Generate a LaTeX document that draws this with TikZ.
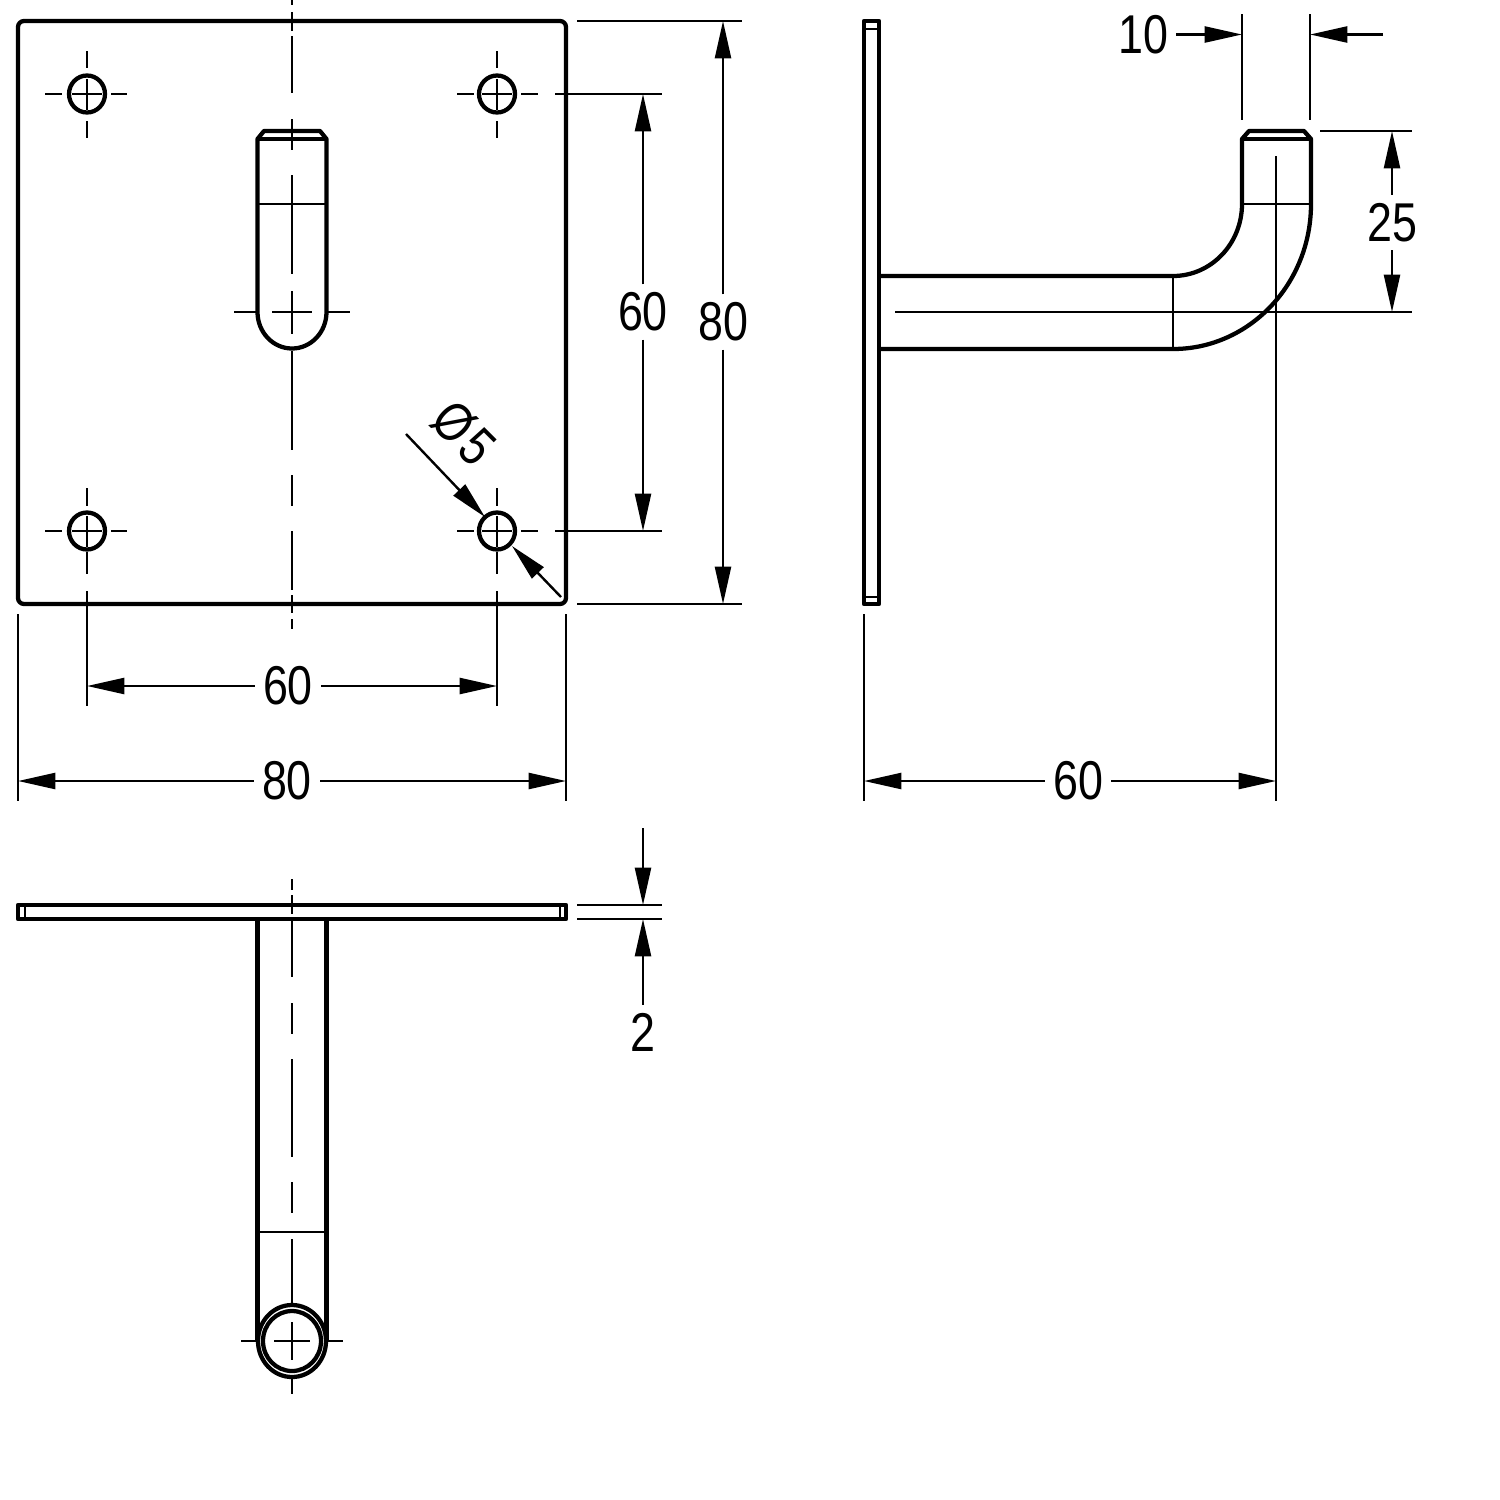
\documentclass[tikz,border=0pt]{standalone}
\usepackage{fontspec}
\setmainfont[FakeStretch=0.82]{Liberation Sans}
\usetikzlibrary{arrows.meta}

\tikzset{
  outline/.style={line width=3.2pt,line join=round},
  thinline/.style={line width=1.8pt},
  axisline/.style={line width=2.1pt},
  dimline/.style={line width=1.8pt,-{Triangle[length=28pt,width=12pt]}},
  dimtext/.style={inner sep=6pt,font=\fontsize{41}{41}\selectfont}
}

\begin{document}
\begin{tikzpicture}[x=0.75pt,y=0.75pt,yscale=-1,xscale=1]
\path [use as bounding box] (0,0) rectangle (1500,1500);

%Shape: Plate front view
\draw [outline,rounded corners=4.5pt] (18,21) rectangle (566,604);
%Shape: Holes
\draw [outline] (87,94) ellipse [x radius=18,y radius=18.5];
\draw [outline] (497,94) ellipse [x radius=18,y radius=18.5];
\draw [outline] (87,531) ellipse [x radius=18,y radius=18.5];
\draw [outline] (497,531) ellipse [x radius=18,y radius=18.5];
%Straight Lines: hole axes
\draw [axisline] (45,94) -- (62,94) (72,94) -- (102,94) (111,94) -- (127,94) (87,51) -- (87,68) (87,79) -- (87,110) (87,121) -- (87,138);
\draw [axisline] (457,94) -- (474,94) (482,94) -- (512,94) (521,94) -- (538,94) (497,51) -- (497,68) (497,79) -- (497,110) (497,121) -- (497,138);
\draw [axisline] (45,531) -- (62,531) (72,531) -- (102,531) (111,531) -- (127,531) (87,488) -- (87,506) (87,516) -- (87,547) (87,552) -- (87,574);
\draw [axisline] (457,531) -- (474,531) (482,531) -- (512,531) (521,531) -- (538,531) (497,488) -- (497,506) (497,516) -- (497,547) (497,552) -- (497,574);
%Shape: Slot
\draw [outline] (257.5,139) -- (264,131) -- (320,131) -- (326.5,139) -- (326.5,312) arc [start angle=0,end angle=180,x radius=34.5,y radius=36.5] -- cycle;
\draw [outline] (257.5,139) -- (326.5,139);
\draw [thinline] (257.5,204) -- (326.5,204);
%Straight Lines: slot axes
\draw [axisline] (234,312) -- (256,312) (272,312) -- (312,312) (328,312) -- (350,312);
%Straight Lines: middle axis
\draw [axisline] (292,0) -- (292,5) (292,12) -- (292,31) (292,36) -- (292,93) (292,119) -- (292,150) (292,175) -- (292,274) (292,291) -- (292,334) (292,351) -- (292,450) (292,475) -- (292,506) (292,531) -- (292,590) (292,595) -- (292,613) (292,619) -- (292,629);

%Shape: Plate side view
\draw [outline] (864,21) rectangle (879,604);
\draw [axisline] (864,29) -- (879,29) (864,597) -- (879,597);
%Shape: Hook
\draw [outline] (879,276) -- (1173,276) arc [start angle=90,end angle=0,x radius=69,y radius=72] -- (1242,139) -- (1249,131) -- (1304,131) -- (1311,139) -- (1311,204) arc [start angle=0,end angle=90,x radius=138,y radius=145] -- (879,349);
\draw [outline] (1242,139) -- (1311,139);
\draw [thinline] (1242,204) -- (1311,204) (1173,276) -- (1173,349);
\draw [thinline] (895,312) -- (1412,312);
\draw [thinline] (1276,156) -- (1276,801);

%Shape: Plate bottom view
\draw [outline] (18,905) rectangle (566,919);
\draw [axisline] (25,905) -- (25,919) (560,905) -- (560,919);
%Shape: Stem
\draw [outline] (257.5,919) -- (257.5,1341) (326.5,919) -- (326.5,1341);
\draw [thinline] (257.5,1232) -- (326.5,1232);
%Shape: Stem end
\draw [outline,fill=white] (292,1341) ellipse [x radius=34,y radius=36];
\draw [outline] (292,1341) ellipse [x radius=29,y radius=30];
%Straight Lines: stem axes
\draw [axisline] (241,1341) -- (257,1341) (274,1341) -- (310,1341) (327,1341) -- (343,1341) (292,1322) -- (292,1360) (292,1375) -- (292,1394);
\draw [axisline] (292,879) -- (292,890) (292,895) -- (292,914) (292,920) -- (292,977) (292,1003) -- (292,1034) (292,1059) -- (292,1157) (292,1182) -- (292,1213) (292,1239) -- (292,1303);

%Straight Lines: extension lines
\draw [thinline] (577,21) -- (742,21) (577,604) -- (742,604) (555,94) -- (662,94) (555,531) -- (662,531);
\draw [thinline] (87,591) -- (87,706) (497,591) -- (497,706) (18,614) -- (18,801) (566,614) -- (566,801);
\draw [thinline] (864,614) -- (864,801);
\draw [thinline] (1242,14) -- (1242,120) (1310,14) -- (1310,120) (1320,131) -- (1412,131);
\draw [thinline] (577,905) -- (662,905) (577,919) -- (662,919);

% Text Node
\node [dimtext] (wide80) at (287,781) {80};
\node [dimtext] (pitch60) at (288,686) {60};
\node [dimtext] (high60) at (643,312) {60};
\node [dimtext] (high80) at (723,322) {80};
\node [dimtext] (reach60) at (1078,781) {60};
\node [dimtext] (stem10) at (1143,34.5) {10};
\node [dimtext] (rise25) at (1392,222.5) {25};
\node [dimtext] (sheet2) at (643,1032) {2};
\node [dimtext,rotate=-45] (bore5) at (464,433) {Ø\kern3pt 5};

% Dimension ends
\coordinate (wideL) at (18,781);
\coordinate (wideR) at (566,781);
\coordinate (pitchL) at (87,686);
\coordinate (pitchR) at (497,686);
\coordinate (highT) at (643,94);
\coordinate (highB) at (643,531);
\coordinate (tallT) at (723,21);
\coordinate (tallB) at (723,604);
\coordinate (reachL) at (864,781);
\coordinate (reachR) at (1276,781);
\coordinate (stemL) at (1242,34.5);
\coordinate (stemR) at (1310,34.5);
\coordinate (stemS) at (1383,34.5);
\coordinate (riseT) at (1392,131);
\coordinate (riseB) at (1392,312);
\coordinate (sheetT) at (643,905);
\coordinate (sheetS) at (643,828);
\coordinate (sheetB) at (643,919);
\coordinate (boreS) at (406,434);
\coordinate (boreA) at (485,517);
\coordinate (boreE) at (561,597);
\coordinate (boreB) at (512,546);

%Straight Lines: dimension arrows
\draw [dimline] (wide80) -- (wideL);
\draw [dimline] (wide80) -- (wideR);
\draw [dimline] (pitch60) -- (pitchL);
\draw [dimline] (pitch60) -- (pitchR);
\draw [dimline] (high60) -- (highT);
\draw [dimline] (high60) -- (highB);
\draw [dimline] (high80) -- (tallT);
\draw [dimline] (high80) -- (tallB);
\draw [dimline] (reach60) -- (reachL);
\draw [dimline] (reach60) -- (reachR);
\draw [dimline] (stem10) -- (stemL);
\draw [dimline] (stemS) -- (stemR);
\draw [dimline] (rise25) -- (riseT);
\draw [dimline] (rise25) -- (riseB);
\draw [dimline] (sheetS) -- (sheetT);
\draw [dimline] (sheet2) -- (sheetB);
\draw [dimline] (boreS) -- (boreA);
\draw [dimline] (boreE) -- (boreB);

\end{tikzpicture}
\end{document}
